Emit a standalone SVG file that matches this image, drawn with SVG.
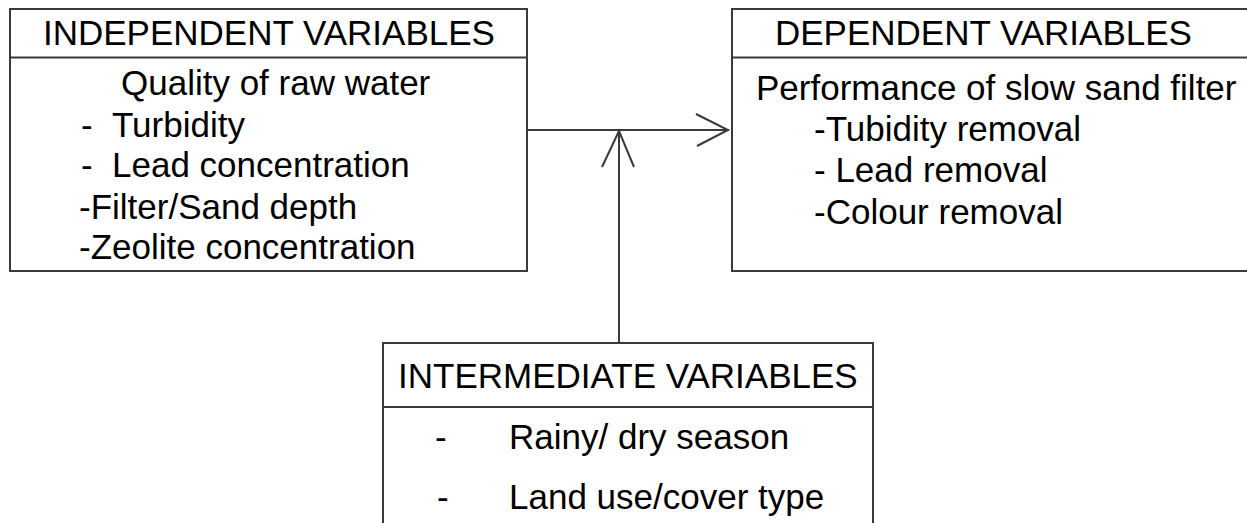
<svg xmlns="http://www.w3.org/2000/svg" width="1247" height="523" viewBox="0 0 1247 523">
  <style>
    .box { fill: #ffffff; stroke: #3a3a3a; stroke-width: 2; }
    .rule { stroke: #3a3a3a; stroke-width: 2; }
    .wire { fill: none; stroke: #3a3a3a; stroke-width: 2; }
    text { font-family: "Liberation Sans", Arial, sans-serif; font-size: 35px; fill: #000000; }
  </style>
  <rect width="1247" height="523" fill="#ffffff"/>

  <!-- links between the variable groups -->
  <g id="connectors">
    <path class="wire" d="M527 130 H729"/>
    <path class="wire" d="M696 114 L728 130 L697 146"/>
    <path class="wire" d="M619 342 V131"/>
    <path class="wire" d="M602 167 L619 131 L634 167"/>
  </g>

  <g id="independent">
    <rect class="box" x="10" y="9" width="517" height="262"/>
    <line class="rule" x1="10" y1="57.5" x2="527" y2="57.5"/>
    <text x="43" y="45">INDEPENDENT VARIABLES</text>
    <text x="121" y="95">Quality of raw water</text>
    <text y="137"><tspan x="81">-</tspan><tspan x="112">Turbidity</tspan></text>
    <text y="177"><tspan x="81">-</tspan><tspan x="112">Lead concentration</tspan></text>
    <text x="79" y="219">-Filter/Sand depth</text>
    <text x="79" y="259">-Zeolite concentration</text>
  </g>

  <g id="dependent">
    <rect class="box" x="732" y="9" width="530" height="262"/>
    <line class="rule" x1="732" y1="57.5" x2="1262" y2="57.5"/>
    <text x="775" y="45">DEPENDENT VARIABLES</text>
    <text x="756" y="100">Performance of slow sand filter</text>
    <text x="814" y="141">-Tubidity removal</text>
    <text x="814" y="182">- Lead removal</text>
    <text x="814" y="224">-Colour removal</text>
  </g>

  <g id="intermediate">
    <rect class="box" x="383" y="343" width="490" height="200"/>
    <line class="rule" x1="383" y1="407" x2="873" y2="407"/>
    <text x="398" y="388">INTERMEDIATE VARIABLES</text>
    <text x="435" y="449">-</text>
    <text x="509" y="449">Rainy/ dry season</text>
    <text x="437" y="509">-</text>
    <text x="509" y="509">Land use/cover type</text>
  </g>
</svg>
